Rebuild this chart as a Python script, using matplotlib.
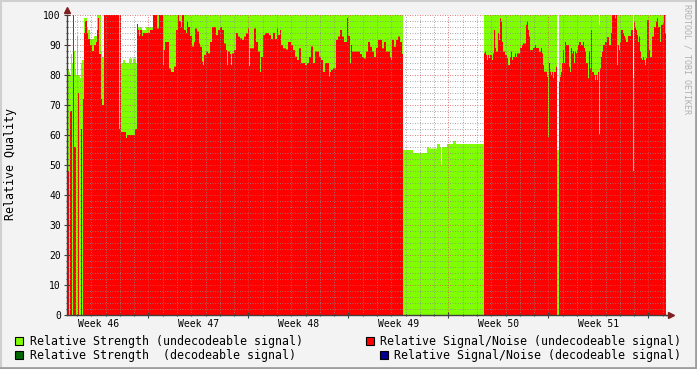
import numpy as np
import matplotlib
matplotlib.use("Agg")
import matplotlib.pyplot as plt
from matplotlib.patches import Rectangle
from matplotlib.lines import Line2D
from matplotlib.transforms import blended_transform_factory

# one consolidated sample is 0.07 day (~1h40m); time axis in days since Monday of week 46
STEP_DAYS = 0.07
START_DAY = 1.3

# run-length encoded samples: how many samples each value holds
run_len = [
    1, 1, 1, 1, 1, 1, 1, 1, 1, 1,
    1, 1, 1, 1, 1, 1, 1, 1, 2, 1,
    2, 2, 2, 2, 1, 1, 1, 2, 1, 2,
    15, 1, 1, 2, 2, 1, 1, 2, 3, 1,
    2, 1, 1, 1, 1, 1, 2, 1, 3, 4,
    3, 4, 2, 4, 1, 1, 4, 2, 3, 2,
    2, 1, 2, 1, 2, 2, 1, 1, 2, 2,
    2, 1, 2, 2, 1, 2, 1, 1, 2, 2,
    2, 2, 4, 2, 2, 2, 2, 2, 1, 1,
    2, 1, 1, 2, 2, 2, 2, 2, 2, 2,
    2, 1, 1, 4, 2, 2, 2, 1, 2, 2,
    4, 2, 2, 2, 2, 1, 2, 1, 2, 3,
    2, 3, 2, 2, 2, 2, 2, 4, 2, 2,
    2, 2, 2, 4, 2, 2, 2, 4, 1, 1,
    2, 3, 2, 2, 2, 2, 3, 1, 2, 1,
    1, 8, 2, 2, 2, 2, 2, 2, 2, 2,
    2, 4, 2, 2, 4, 1, 1, 2, 2, 2,
    2, 2, 1, 10, 14, 2, 8, 3, 1, 1,
    5, 6, 3, 28, 1, 1, 1, 1, 1, 1,
    2, 1, 1, 1, 1, 2, 1, 1, 1, 1,
    1, 2, 2, 1, 2, 1, 1, 1, 2, 1,
    1, 3, 2, 1, 3, 1, 1, 1, 1, 3,
    2, 1, 3, 2, 1, 1, 1, 3, 1, 1,
    1, 1, 1, 1, 1, 2, 1, 2, 1, 1,
    1, 1, 1, 1, 1, 3, 1, 1, 1, 1,
    1, 1, 1, 1, 1, 1, 2, 2, 1, 1,
    1, 2, 1, 1, 1, 1, 2, 1, 1, 1,
    1, 1, 1, 1, 1, 1, 2, 2, 2, 2,
    1, 3, 1, 1, 1, 1, 1, 1, 2, 1,
    1, 1, 2, 3, 2, 1, 1, 1, 1, 1,
    1, 1, 1, 1, 1, 1, 1, 1, 1, 2,
    1, 2, 2, 2, 1, 1, 2, 1, 2, 1, 1, 1,
]

# relative strength (undecodeable signal), percent
strength = [
    83, 82, 81, 80, 87, 84, 90, 88, 82, 80,
    93, 80, 80, 79, 84, 85, 85, 99, 99, 96,
    95, 92, 92, 93, 93, 100, 100, 100, 88, 86,
    100, 100, 100, 84, 85, 84, 84, 84, 85.5, 84,
    85.5, 85.5, 84, 96, 96, 96, 96, 95, 95, 96,
    96, 100, 100, 100, 100, 100, 100, 100, 100, 100,
    100, 100, 100, 100, 100, 100, 100, 100, 100, 100,
    100, 100, 100, 100, 100, 100, 100, 100, 100, 100,
    100, 100, 100, 100, 100, 100, 100, 100, 100, 100,
    100, 100, 100, 100, 100, 100, 100, 100, 100, 100,
    100, 100, 100, 100, 100, 100, 100, 100, 100, 100,
    100, 100, 100, 100, 100, 100, 100, 100, 100, 100,
    100, 100, 100, 100, 100, 100, 100, 100, 100, 100,
    100, 100, 100, 100, 100, 100, 100, 100, 100, 100,
    100, 100, 100, 100, 100, 100, 100, 100, 100, 100,
    100, 100, 100, 100, 100, 100, 100, 100, 100, 100,
    100, 100, 100, 100, 100, 100, 100, 100, 100, 100,
    100, 100, 100, 55, 54, 56, 55.5, 57, 56, 50,
    56, 57, 58, 57, 100, 100, 100, 100, 100, 100,
    100, 100, 100, 100, 100, 100, 100, 100, 100, 100,
    100, 100, 100, 100, 100, 100, 100, 100, 100, 100,
    100, 100, 100, 100, 100, 100, 100, 100, 100, 100,
    100, 100, 100, 100, 100, 100, 100, 100, 100, 100,
    100, 100, 100, 100, 100, 100, 100, 55, 100, 100,
    100, 100, 100, 100, 100, 100, 100, 100, 100, 100,
    100, 100, 100, 100, 100, 100, 100, 100, 100, 100,
    100, 100, 100, 100, 100, 100, 100, 100, 100, 100,
    100, 100, 96.7, 100, 100, 100, 100, 100, 100, 100,
    100, 100, 100, 100, 100, 100, 100, 100, 100, 100,
    100, 100, 100, 100, 100, 79, 100, 100, 100, 100,
    100, 100, 100, 100, 100, 100, 100, 100, 100, 100,
    100, 100, 100, 100, 100, 100, 100, 100, 100, 100, 100, 100,
]

# relative signal/noise (undecodeable signal), percent
snr = [
    50, 48, 0, 68, 68, 0, 100, 56, 56, 0,
    0, 74, 0, 0, 62, 0, 72, 94, 98, 94,
    92, 90, 88, 90, 91, 95, 99, 87, 72, 70,
    100, 62, 100, 61, 61, 61, 59, 60, 60, 60,
    60, 62, 62, 97, 95, 93, 95, 93, 94, 94,
    95, 100, 95.5, 100, 83.3, 88.3, 91, 82.2, 81, 82.8,
    95, 100, 98, 96, 100, 95, 94, 97.8, 96, 93,
    89.5, 91, 95.5, 94.5, 90.5, 89.4, 84.5, 83.3, 86.7, 87.8,
    87.2, 91, 96, 93.3, 95, 96, 95, 90.5, 88.3, 83.3,
    87.8, 87, 83.3, 87.2, 88.3, 94, 92.8, 92.2, 91.7, 92.8,
    93.9, 95.5, 83, 88.9, 95.5, 91, 87.8, 81, 86, 93.3,
    94, 93.3, 92, 94, 92, 95.5, 93.3, 95, 90, 88.9,
    88.5, 91, 90, 88.3, 86.1, 85, 88.9, 84, 83.3, 84,
    86, 89.5, 84, 87.8, 86.1, 85, 81, 84, 79.5, 81,
    81.7, 82.2, 91.7, 92.8, 95, 92.8, 91, 99, 93, 84,
    90, 87.8, 87, 86, 85.5, 87.8, 91, 89.4, 87.8, 86,
    89, 91.7, 88.9, 91, 87.8, 86, 85, 91.7, 89.4, 91.7,
    92.8, 91, 87, 0, 0, 0, 0, 0, 0, 0,
    0, 0, 0, 0, 87.2, 87.8, 86.7, 85, 86.7, 85.6,
    86.7, 85, 87.2, 95, 89, 87.8, 94, 91.7, 98.9, 97.8,
    91, 87.8, 86.7, 85.6, 83.3, 86, 87.8, 85, 86, 87.2,
    86, 87.2, 89, 90, 90.5, 96.7, 97.8, 95, 92.8, 88.3,
    89, 90, 89, 87.8, 89, 87.2, 83.3, 81.1, 79.4, 59.4,
    84, 81.1, 80, 81, 79, 81, 82.8, 0, 77.7, 79.4,
    81, 84, 88.3, 84, 91, 90, 82.8, 81, 89, 87.2,
    88, 84, 87.8, 87.2, 88.3, 90, 91, 90, 91, 89,
    87.8, 84, 78.9, 87.8, 82.2, 95, 81, 80, 78.3, 80,
    78.3, 81, 60.2, 82.2, 86, 87.8, 90, 91, 92.6, 90,
    94, 100, 98.9, 100, 83.3, 90, 88.3, 91, 95, 94,
    93, 92.2, 91, 93, 95, 48, 97.8, 96, 95, 93.3,
    91, 92.8, 87.8, 85.6, 85, 86, 85, 83.3, 85.6, 98.3,
    88.3, 86, 92.8, 96, 97.8, 98.9, 96, 91, 96.7, 97.2, 100, 94,
]

week_labels = ["Week 46", "Week 47", "Week 48", "Week 49", "Week 50", "Week 51"]

legend_left = ["Relative Strength (undecodeable signal)",
               "Relative Strength  (decodeable signal)"]
legend_right = ["Relative Signal/Noise (undecodeable signal)",
                "Relative Signal/Noise (decodeable signal)"]

GREEN = "#80ff00"
RED = "#ff0000"
DARK_GREEN = "#006600"
DARK_BLUE = "#000094"
ARROW = "#7f1f1f"
MONO = "DejaVu Sans Mono"
LEG_SIZE = 8.35

W, H = 697, 369

g = np.repeat(strength, run_len)
r = np.repeat(snr, run_len)
edges = START_DAY + STEP_DAYS * np.arange(len(g) + 1)

fig = plt.figure(figsize=(W / 100, H / 100), dpi=100, facecolor="#f3f3f3")
ax = fig.add_axes([67 / W, 1 - 315 / H, 599 / W, 300 / H])
ax.set_facecolor("white")

ax.stairs(g, edges, fill=True, color=GREEN, baseline=0, lw=0)
ax.stairs(r, edges, fill=True, color=RED, baseline=0, lw=0)

ax.set_xlim(edges[0], edges[-1])
ax.set_ylim(0, 100)

# grid: daily / 2% minor, weekly / 10% major, drawn over the data like rrdtool
ax.set_xticks(np.arange(7, 43, 7))
ax.set_xticks(np.arange(2, 44, 1), minor=True)
ax.set_yticks(np.arange(0, 101, 10))
ax.set_yticks(np.arange(0, 101, 2), minor=True)
ax.set_axisbelow(False)
ax.grid(which="minor", color=(0.55, 0.55, 0.55, 0.35), lw=0.6, ls=(0, (1, 2)))
ax.grid(which="major", color=(0.87, 0.3, 0.3, 0.55), lw=0.6, ls=(0, (1, 2)))

ax.tick_params(which="both", direction="inout", color="#404040", width=0.8)
ax.tick_params(which="major", length=4)
ax.tick_params(which="minor", length=2)
ax.tick_params(axis="x", labelbottom=False)
ax.tick_params(axis="y", labelsize=7, pad=2.5)
for lab in ax.get_yticklabels():
    lab.set_family(MONO)

for s in ["top", "right"]:
    ax.spines[s].set_visible(False)
for s in ["left", "bottom"]:
    ax.spines[s].set_color("#404040")
    ax.spines[s].set_linewidth(1)

# axis arrows
ax.plot([1.0, 1.006], [0, 0], color="#404040", lw=1, transform=ax.transAxes, clip_on=False)
ax.plot([1.008], [0], marker=">", ms=4.5, color=ARROW, transform=ax.transAxes, clip_on=False)
ax.plot([0], [1.017], marker="^", ms=4.5, color=ARROW, transform=ax.transAxes, clip_on=False)

# week labels centred on each week
trans = blended_transform_factory(ax.transData, ax.transAxes)
for i, lab in enumerate(week_labels):
    ax.text(3.5 + 7 * i, -0.03, lab, transform=trans, ha="center", va="center",
            fontsize=7, family=MONO)

fig.text(11 / W, 1 - 164 / H, "Relative Quality", rotation=90, ha="center", va="center",
         fontsize=8.4, family=MONO)
fig.text(687 / W, 1 - 4 / H, "RRDTOOL / TOBI OETIKER", rotation=270, ha="center", va="top",
         fontsize=6, family=MONO, color="#b0b0b0")

# legend
rows_y = [341, 355]
left_cols = [GREEN, DARK_GREEN]
right_cols = [RED, DARK_BLUE]
right_box_x = [366, 380]
for i in range(2):
    y = 1 - rows_y[i] / H
    fig.add_artist(Rectangle((15 / W, y - 4 / H), 8 / W, 8 / H, facecolor=left_cols[i],
                             edgecolor="black", lw=0.8, transform=fig.transFigure))
    fig.text(30 / W, y, legend_left[i], ha="left", va="center", fontsize=LEG_SIZE, family=MONO)
    fig.add_artist(Rectangle((right_box_x[i] / W, y - 4 / H), 8 / W, 8 / H,
                             facecolor=right_cols[i], edgecolor="black", lw=0.8,
                             transform=fig.transFigure))
    fig.text(681 / W, y, legend_right[i], ha="right", va="center", fontsize=LEG_SIZE,
             family=MONO)

# 3d-ish frame around the image
fig.add_artist(Line2D([0, 1], [1 - 0.5 / H, 1 - 0.5 / H], color="#cfcfcf", lw=1.5))
fig.add_artist(Line2D([0.5 / W, 0.5 / W], [0, 1], color="#cfcfcf", lw=1.5))
fig.add_artist(Line2D([0, 1], [1 / H, 1 / H], color="#9e9e9e", lw=2))
fig.add_artist(Line2D([1 - 1 / W, 1 - 1 / W], [0, 1], color="#9e9e9e", lw=2))

fig.savefig("out.png", dpi=100, facecolor=fig.get_facecolor())
